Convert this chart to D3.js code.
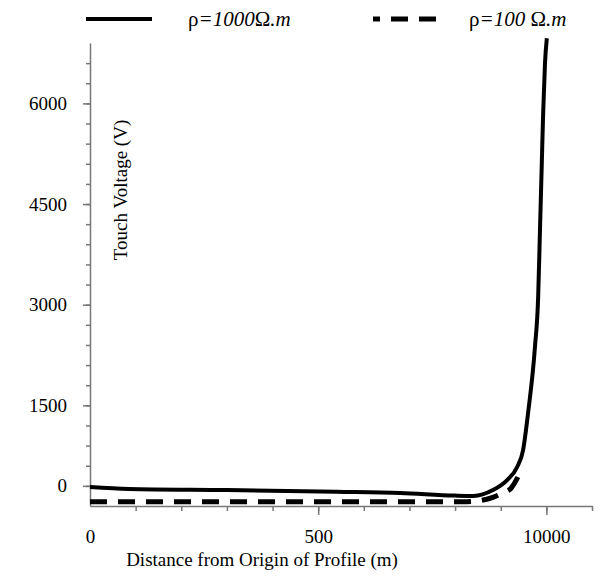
<!DOCTYPE html>
<html>
<head>
<meta charset="utf-8">
<script src="https://cdn.jsdelivr.net/npm/d3@7"></script>
<style>
  body { margin: 0; background: #fff; }
  text { font-family: "Liberation Serif", "Times New Roman", serif; fill: #000; }
</style>
</head>
<body>
<svg></svg>
<script>
// touch voltage along the profile

let svgWidth = 600;
let svgHeight = 576;

// rho = 1000 ohm.m
let dist1 = [0, 850, 3000, 5400, 6800, 8000, 8400, 8830, 9140, 9360, 9490, 9600, 9750, 9820, 9860, 9900, 9930, 9970, 10010];
let volt1 = [283, 255, 238, 213, 194, 155, 150, 238, 387, 581, 834, 1390, 2370, 3110, 4110, 5110, 5860, 6600, 6970];

// rho = 100 ohm.m
let dist2 = [0, 4000, 8160, 8470, 8750, 9040, 9230, 9360, 9450];
let volt2 = [64, 64, 64, 75, 112, 194, 268, 410, 550];

let yTickVals = [300, 1500, 3000, 4500, 6000];
let yTickLabels = ["0", "1500", "3000", "4500", "6000"];
let xTickVals = [0, 5000, 10000];
let xTickLabels = ["0", "500", "10000"];

let svg = d3.select("svg")
	.attr("width", svgWidth)
	.attr("height", svgHeight);

let x = d3.scaleLinear().domain([0, 11000]).range([90, 592]);
let y = d3.scaleLinear().domain([0, 6900]).range([506, 43]);

let axisColor = "#777";

function styleAxis(g) {
	g.selectAll("path, line").attr("stroke", axisColor).attr("stroke-width", 1.5);
}

// y axis: minor ticks, major ticks, labels
svg.append("g")
	.attr("transform", "translate(90,0)")
	.call(d3.axisLeft(y).tickValues(d3.range(300, 6700, 300)).tickSize(4).tickSizeOuter(0).tickFormat(""))
	.call(styleAxis);

svg.append("g")
	.attr("transform", "translate(90,0)")
	.call(d3.axisLeft(y).tickValues(yTickVals).tickSize(7).tickFormat(""))
	.call(styleAxis)
	.call(g => g.select(".domain").remove());

svg.append("g")
	.attr("transform", "translate(67,0)")
	.call(d3.axisLeft(y).tickValues(yTickVals).tickSize(0).tickPadding(0)
		.tickFormat((d, i) => yTickLabels[i]))
	.call(g => g.select(".domain").remove())
	.selectAll("text")
	.style("font-size", "19px")
	.style("font-family", "'Liberation Serif', serif")
	.attr("fill", "#000");

// x axis
svg.append("g")
	.attr("transform", "translate(0,506)")
	.call(d3.axisBottom(x).tickValues(d3.range(1000, 11001, 1000)).tickSize(5).tickSizeOuter(0).tickFormat(""))
	.call(styleAxis);

svg.append("g")
	.attr("transform", "translate(0,506)")
	.call(d3.axisBottom(x).tickValues([5000, 10000]).tickSize(9).tickFormat(""))
	.call(styleAxis)
	.call(g => g.select(".domain").remove());

svg.append("g")
	.attr("transform", "translate(0,529)")
	.call(d3.axisBottom(x).tickValues(xTickVals).tickSize(0).tickPadding(0)
		.tickFormat((d, i) => xTickLabels[i]))
	.call(g => g.select(".domain").remove())
	.selectAll("text")
	.style("font-size", "19px")
	.style("font-family", "'Liberation Serif', serif")
	.attr("fill", "#000");

// titles
svg.append("text")
	.attr("x", 262)
	.attr("y", 566)
	.attr("text-anchor", "middle")
	.style("font-size", "19px")
	.text("Distance from Origin of Profile (m)");

svg.append("text")
	.attr("transform", "translate(127,190) rotate(-90)")
	.attr("text-anchor", "middle")
	.style("font-size", "19px")
	.text("Touch Voltage (V)");

// lines
let line = d3.line()
	.x(d => x(d[0]))
	.y(d => y(d[1]))
	.curve(d3.curveMonotoneX);

svg.append("path")
	.datum(dist2.map((d, i) => [d, volt2[i]]))
	.attr("d", line)
	.attr("fill", "none")
	.attr("stroke", "#000")
	.attr("stroke-width", 5)
	.attr("stroke-dasharray", "17,11");

svg.append("path")
	.datum(dist1.map((d, i) => [d, volt1[i]]))
	.attr("d", line)
	.attr("fill", "none")
	.attr("stroke", "#000")
	.attr("stroke-width", 4);

// legend
let legend = svg.append("g").attr("class", "legend");

legend.append("line")
	.attr("x1", 86).attr("x2", 152)
	.attr("y1", 19).attr("y2", 19)
	.attr("stroke", "#000").attr("stroke-width", 4);

legend.append("line")
	.attr("x1", 373).attr("x2", 437)
	.attr("y1", 19).attr("y2", 19)
	.attr("stroke", "#000").attr("stroke-width", 5)
	.attr("stroke-dasharray", "17,11")
	.attr("stroke-dashoffset", 10);

function legendText(xPos, num) {
	let t = legend.append("text")
		.attr("x", xPos)
		.attr("y", 26)
		.style("font-size", "21px");
	t.append("tspan").text("ρ");
	t.append("tspan").style("font-style", "italic").text("=" + num);
	t.append("tspan").text("Ω");
	t.append("tspan").style("font-style", "italic").text(".m");
}

legendText(188, "1000");
legendText(469, "100 ");

</script>
</body>
</html>
